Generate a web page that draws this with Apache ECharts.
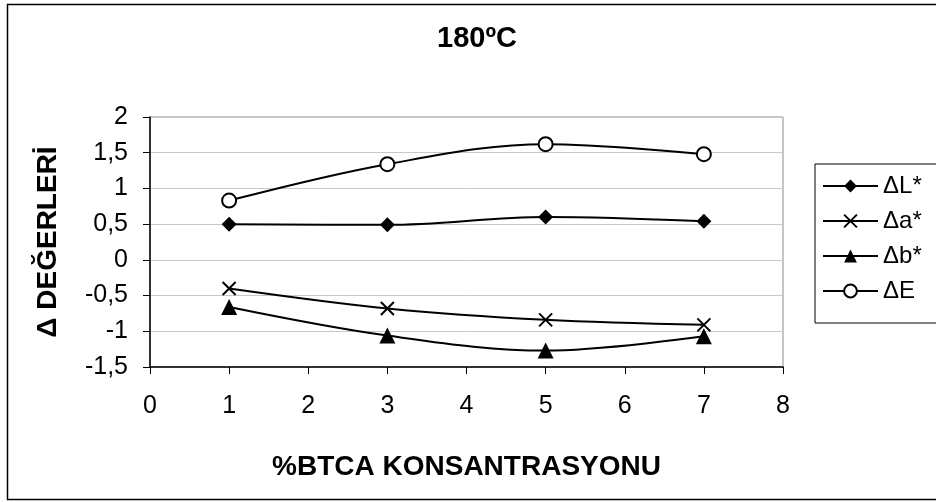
<!DOCTYPE html>
<html>
<head>
<meta charset="utf-8">
<script src="https://cdn.jsdelivr.net/npm/echarts@6/dist/echarts.min.js"></script>
<style>
  html, body { margin: 0; padding: 0; background: #fff; }
  #chart { width: 936px; height: 502px; }
</style>
</head>
<body>
<div id="chart"></div>
<script>
// BTCA concentration (%) on the x axis
const concentrations = [1, 3, 5, 7];
// Colour differences at 180ºC
const deltaL = [0.50, 0.49, 0.60, 0.54];
const deltaA = [-0.40, -0.68, -0.84, -0.91];
const deltaB = [-0.66, -1.06, -1.27, -1.07];
const deltaE = [0.83, 1.34, 1.62, 1.48];
const seriesNames = ['ΔL*', 'Δa*', 'Δb*', 'ΔE'];

const FONT = '"Liberation Sans", Arial, sans-serif';
const chart = echarts.init(document.getElementById('chart'), null, { renderer: 'canvas' });

const pair = (ys) => concentrations.map((x, i) => [x, ys[i]]);
const crossPath = 'path://M0,0L10,10M10,0L0,10';

function lineSeries(name, ys, symbol, size, itemStyle) {
  return {
    name, type: 'line', data: pair(ys), smooth: 0.35,
    symbol, symbolSize: size, showSymbol: true,
    lineStyle: { color: '#000', width: 2 },
    itemStyle: Object.assign({ color: '#000' }, itemStyle),
    emphasis: { disabled: true },
    z: 3
  };
}

chart.setOption({
  animation: false,
  backgroundColor: '#fff',
  textStyle: { fontFamily: FONT },
  graphic: [{
    type: 'rect', shape: { x: 7.5, y: 4.5, width: 940, height: 495 },
    style: { fill: 'none', stroke: '#000', lineWidth: 1.5 }, silent: true, z: -1
  }, {
    type: 'text', x: 477, y: 39,
    style: {
      text: '180ºC', fill: '#000', align: 'center', verticalAlign: 'middle',
      font: 'bold 29px "Liberation Sans", Arial, sans-serif'
    }
  }],
  legend: {
    orient: 'vertical', left: 815, top: 164, width: 140,
    padding: [10, 30, 20, 7],
    borderColor: '#000', borderWidth: 1,
    itemWidth: 55, itemHeight: 16, itemGap: 11,
    textStyle: { fontFamily: FONT, fontSize: 24, color: '#000' },
    data: seriesNames
  },
  grid: { left: 150, right: 153, top: 117, bottom: 135, show: true, borderColor: '#8c8c8c', borderWidth: 1 },
  xAxis: {
    type: 'value', min: 0, max: 8, interval: 1,
    name: '%BTCA KONSANTRASYONU', nameLocation: 'middle', nameGap: 86,
    nameTextStyle: { fontFamily: FONT, fontSize: 28, fontWeight: 'bold', color: '#000' },
    axisLine: { onZero: false, lineStyle: { color: '#000', width: 1.5 } },
    axisTick: { show: true, inside: false, length: 7, lineStyle: { color: '#000' } },
    axisLabel: { margin: 27, fontSize: 25, color: '#000', fontFamily: FONT },
    splitLine: { show: false }
  },
  yAxis: {
    type: 'value', min: -1.5, max: 2, interval: 0.5,
    name: 'Δ DEĞERLERİ', nameLocation: 'middle', nameGap: 88,
    nameTextStyle: { fontFamily: FONT, fontSize: 28, fontWeight: 'bold', color: '#000' },
    axisLine: { show: true, lineStyle: { color: '#000', width: 1.5 } },
    axisTick: { show: true, inside: false, length: 7, lineStyle: { color: '#000' } },
    axisLabel: {
      margin: 22, fontSize: 25, color: '#000', fontFamily: FONT,
      formatter: (v) => String(v).replace('.', ',')
    },
    splitLine: { show: true, lineStyle: { color: '#c8c8c8', width: 1 } }
  },
  series: [
    lineSeries('ΔL*', deltaL, 'diamond', 15, {}),
    lineSeries('Δa*', deltaA, crossPath, 13, { color: 'rgba(0,0,0,0)', borderColor: '#000', borderWidth: 2 }),
    lineSeries('Δb*', deltaB, 'triangle', 16, {}),
    lineSeries('ΔE', deltaE, 'circle', 14, { color: '#fff', borderColor: '#000', borderWidth: 2 })
  ]
});
</script>
</body>
</html>
